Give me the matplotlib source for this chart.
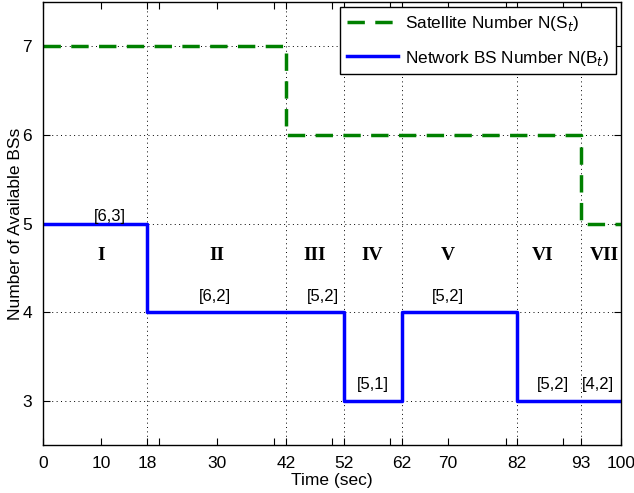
import matplotlib
matplotlib.use("Agg")
import matplotlib.pyplot as plt

# Data
sat_x = [0, 42, 42, 93, 93, 100]
sat_y = [7, 7, 6, 6, 5, 5]
bs_x = [0, 18, 18, 52, 52, 62, 62, 82, 82, 100]
bs_y = [5, 5, 4, 4, 3, 3, 4, 4, 3, 3]

xtick_labels = [0, 10, 18, 30, 42, 52, 62, 70, 82, 93, 100]
xminor = [20, 40, 50, 60, 80, 90]
xgrid = [18, 42, 52, 62, 82, 93]
yticks = [3, 4, 5, 6, 7]

phases = ["I", "II", "III", "IV", "V", "VI", "VII"]
phase_x = [10, 30, 47, 57, 70, 86.3, 97]
phase_y = 4.64

pairs = ["[6,3]", "[6,2]", "[5,2]", "[5,1]", "[5,2]", "[5,2]", "[4,2]"]
pair_x = [11.6, 29.8, 48.4, 57, 70, 88.2, 96]
pair_y = [5.08, 4.18, 4.18, 3.18, 4.18, 3.18, 3.18]

plt.rcParams['font.family'] = ['Liberation Sans', 'DejaVu Sans']

fig = plt.figure(figsize=(6.34, 4.93), dpi=100)
ax = fig.add_axes([0.068, 0.097, 0.912, 0.899])

for gx in xgrid:
    ax.axvline(gx, color='black', ls=(0, (1, 3.5)), lw=0.7, zorder=0)
for gy in yticks:
    ax.axhline(gy, color='black', ls=(0, (1, 3.5)), lw=0.7, zorder=0)

ax.plot(sat_x, sat_y, color='#008000', ls='--', lw=2.5,
        dashes=(5, 3), label='Satellite Number N(S$_t$)')
ax.plot(bs_x, bs_y, color='#0000ff', ls='-', lw=2.5,
        label='Network BS Number N(B$_t$)')

ax.set_xlim(0, 100)
ax.set_ylim(2.5, 7.5)
ax.set_xticks(xtick_labels)
ax.set_xticklabels([str(v) for v in xtick_labels])
ax.set_xticks(xminor, minor=True)
ax.set_yticks(yticks)
ax.tick_params(which='both', direction='in', top=True, right=True,
               labelsize=12.5, length=5, width=0.8, pad=8)
ax.tick_params(which='minor', length=5)
for s in ax.spines.values():
    s.set_linewidth(1.0)

ax.set_xlabel('Time (sec)', fontsize=12.5, labelpad=1)
ax.set_ylabel('Number of Available BSs', fontsize=12.5)
ax.yaxis.set_label_coords(-0.035, 0.5)

for t, x in zip(phases, phase_x):
    ax.text(x, phase_y, t, ha='center', va='center', fontsize=14,
            fontweight='bold', family=['Liberation Serif', 'DejaVu Serif'])
for t, x, y in zip(pairs, pair_x, pair_y):
    ax.text(x, y, t, ha='center', va='center', fontsize=12)

leg = ax.legend(loc='upper right', fontsize=12.4, fancybox=False,
                edgecolor='black', framealpha=1, handlelength=2.96,
                borderaxespad=0.3, labelspacing=0.9, borderpad=0.4,
                handletextpad=0.46)
leg.get_frame().set_linewidth(1.0)

fig.savefig('out.png', dpi=100)
